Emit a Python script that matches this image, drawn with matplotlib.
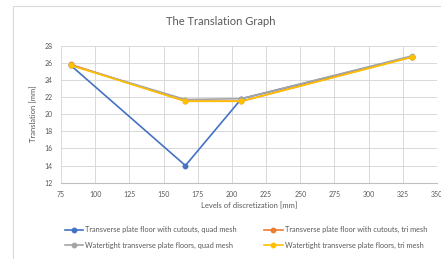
import matplotlib.pyplot as plt
from matplotlib.patches import Rectangle

# levels of discretization [mm]
levels = [82, 166, 207, 332]

quad_cutouts = [25.7, 14.0, 21.8, 26.7]
tri_cutouts = [25.8, 21.5, 21.5, 26.7]
quad_watertight = [25.7, 21.7, 21.8, 26.8]
tri_watertight = [25.7, 21.5, 21.5, 26.65]

labels = [
    'Transverse plate floor with cutouts, quad mesh',
    'Transverse plate floor with cutouts, tri mesh',
    'Watertight transverse plate floors, quad mesh',
    'Watertight transverse plate floors, tri mesh',
]
colors = ['#4472C4', '#ED7D31', '#A5A5A5', '#FFC000']
xticks = list(range(75, 351, 25))
yticks = list(range(12, 29, 2))

plt.rcParams['font.family'] = ['Lato', 'DejaVu Sans']

W, H = 441, 259
fig = plt.figure(figsize=(W / 100, H / 100), dpi=100)
fig.patch.set_facecolor('white')

# chart area border (cropped by image edge)
fig.patches.append(Rectangle((13 / W, -0.1), 1.0, 1 - 6 / H + 0.1,
                             transform=fig.transFigure, fill=False,
                             edgecolor='#D9D9D9', linewidth=0.8))

ax = fig.add_axes([61 / W, 1 - 182.7 / H, (437 - 61) / W, (182.7 - 45.5) / H])

series = [quad_cutouts, tri_cutouts, quad_watertight, tri_watertight]
for vals, lab, col in zip(series, labels, colors):
    ax.plot(levels, vals, '-o', color=col, label=lab, linewidth=1.2,
            markersize=3.2)

ax.set_xlim(75, 350)
ax.set_ylim(12, 28)
ax.set_xticks(xticks)
ax.set_yticks(yticks)
ax.grid(True, color='#D9D9D9', linewidth=0.7)
ax.set_axisbelow(True)
for s in ['top', 'right', 'left']:
    ax.spines[s].set_visible(False)
ax.spines['bottom'].set_color('#BFBFBF')
ax.spines['bottom'].set_linewidth(0.8)
ax.tick_params(length=0, labelsize=5, labelcolor='#595959', pad=6)

ax.set_xlabel('Levels of discretization [mm]', fontsize=5.5, color='#595959', labelpad=3)
ax.set_ylabel('Translation [mm]', fontsize=5.5, color='#595959', labelpad=5)

fig.text(0.5, 1 - 21 / H, 'The Translation Graph', ha='center', va='center',
         fontsize=8, color='#595959')

handles, labs = ax.get_legend_handles_labels()
order = [0, 2, 1, 3]
fig.legend([handles[i] for i in order], [labs[i] for i in order],
           loc='center left', bbox_to_anchor=(58 / W, 1 - 237.5 / H),
           ncol=2, frameon=False, fontsize=5.3, labelcolor='#595959',
           handlelength=2.5, handletextpad=0.3, columnspacing=3.7,
           labelspacing=1.1)

fig.savefig('out.png', dpi=100)
